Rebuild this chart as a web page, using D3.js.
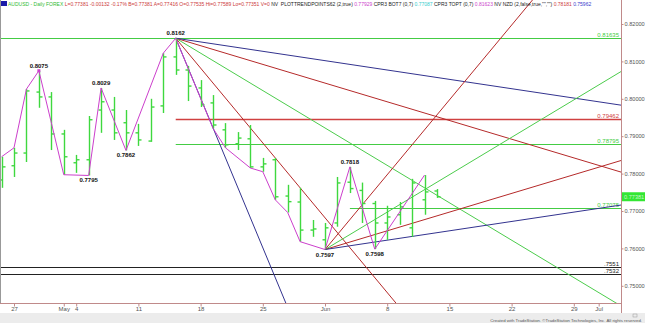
<!DOCTYPE html>
<html>
<head>
<meta charset="utf-8">
<script src="https://cdn.jsdelivr.net/npm/d3@7"></script>
<style>
  body { margin: 0; background: #fff; }
  svg { display: block; font-family: Arial, "Liberation Sans", sans-serif; }
</style>
</head>
<body>
<svg id="chart" width="645" height="323"></svg>
<script>
// daily AUDUSD bars, first bar is Fri 24 Apr 2015, weekends skipped
var firstDay = "2015-04-24";
var opens  = [0.7783, 0.7821, 0.7855, 0.8018, 0.8005, 0.7906, 0.7829, 0.7837, 0.7970, 0.7970, 0.7936, 0.7909, 0.7887, 0.7981, 0.8112, 0.8077, 0.8029, 0.7989, 0.7917, 0.7880, 0.7893, 0.7818, 0.7837, 0.7740, 0.7724, 0.7649, 0.7623, 0.7668, 0.7777, 0.7755, 0.7720, 0.7668, 0.7690, 0.7655, 0.7730, 0.77535];
var highs  = [0.7845, 0.7869, 0.8026, 0.8075, 0.8018, 0.7917, 0.7850, 0.7954, 0.8029, 0.8005, 0.7970, 0.7933, 0.8000, 0.8122, 0.8162, 0.8088, 0.8050, 0.8010, 0.7935, 0.7911, 0.7930, 0.7842, 0.7842, 0.7770, 0.7762, 0.7676, 0.7668, 0.7791, 0.7818, 0.7776, 0.7727, 0.7714, 0.7724, 0.7786, 0.7796, 0.77589];
var lows   = [0.7762, 0.7791, 0.7831, 0.7976, 0.7863, 0.7797, 0.7802, 0.7795, 0.7909, 0.7890, 0.7862, 0.7874, 0.7885, 0.7962, 0.8064, 0.7994, 0.7978, 0.7921, 0.7869, 0.7863, 0.7815, 0.7805, 0.7730, 0.7696, 0.7618, 0.7631, 0.7597, 0.7658, 0.7748, 0.7668, 0.7598, 0.7623, 0.7663, 0.7631, 0.7690, 0.77351];
var closes = [0.7818, 0.7855, 0.8021, 0.8005, 0.7906, 0.7845, 0.7837, 0.7944, 0.7992, 0.7909, 0.7909, 0.7890, 0.7978, 0.8112, 0.8077, 0.8034, 0.7984, 0.7930, 0.7877, 0.7895, 0.7818, 0.7826, 0.7738, 0.7725, 0.7649, 0.7652, 0.7655, 0.7775, 0.7760, 0.7720, 0.7668, 0.7684, 0.7711, 0.7775, 0.7751, 0.77381];

// zigzag (trend points) : bar number, price
var zzBar   = [0, 1, 2, 3, 5, 7, 8, 10, 13, 14, 17, 18, 20, 21, 22, 23, 24, 26, 28, 30, 34];
var zzPrice = [0.7845, 0.7869, 0.8026, 0.8075, 0.7797, 0.7795, 0.8029, 0.7862, 0.8122, 0.8162, 0.7921, 0.7869, 0.7815, 0.7805, 0.7730, 0.7696, 0.7618, 0.7597, 0.7818, 0.7598, 0.7796];

// swing labels
var pivotBar   = [3, 7, 8, 10, 14, 26, 28, 30];
var pivotPrice = [0.8075, 0.7795, 0.8029, 0.7862, 0.8162, 0.7597, 0.7818, 0.7598];
var pivotHigh  = [true, false, true, false, true, false, true, false];

// horizontal levels
var levelPrice = [0.81635, 0.79462, 0.78795, 0.77075, 0.7551, 0.7532];
var levelText  = ["0.81635", "0.79462", "0.78795", "0.77075", ".7551", ".7532"];
var levelFrom  = [-2, 14, 14, 28, -2, -2];
var levelColor = ["#44cc44", "#d04040", "#44cc44", "#44cc44", "#222", "#222"];

// gann fans : anchor bar, anchor price, direction, ratios of 1x1 unit
var fanUnit = 0.002;
var fanTop = {bar: 14, price: 0.8162, dir: -1, ratios: [4, 2, 1, 0.5, 0.25], colors: ["#33338f", "#b52a2a", "#4ccc4c", "#b52a2a", "#33338f"]};
var fanLow = {bar: 26, price: 0.7597, dir: 1, ratios: [2, 1, 0.5, 0.25], colors: ["#b52a2a", "#4ccc4c", "#b52a2a", "#33338f"]};

// axis
var priceTicks = [0.75, 0.76, 0.77, 0.78, 0.79, 0.80, 0.81, 0.82];
var dateTicks  = ["2015-04-27", "2015-05-01", "2015-05-04", "2015-05-11", "2015-05-18", "2015-05-25", "2015-06-01", "2015-06-08", "2015-06-15", "2015-06-22", "2015-06-29", "2015-07-01"];
var dateLabels = ["27", "May", "4", "11", "18", "25", "Jun", "8", "15", "22", "29", "Jul"];
var lastPrice = 0.77381;

var W = 645, H = 323, plotR = 621, plotB = 303;
var parse = d3.utcParse("%Y-%m-%d");
var days = d3.utcDay.range(parse(firstDay), parse("2015-07-15")).filter(function(d) {
  return d.getUTCDay() != 0 && d.getUTCDay() != 6;
});
function dayIndex(s) {
  var t = +parse(s);
  return days.findIndex(function(d) { return +d == t; });
}

var x = d3.scaleLinear().domain([1, 26]).range([14, 325]);
var y = d3.scaleLinear().domain([0.75, 0.82]).range([285.8, 24]);

var svg = d3.select("#chart");
svg.append("rect").attr("width", W).attr("height", H).attr("fill", "#fff");

svg.append("defs").append("clipPath").attr("id", "plot")
  .append("rect").attr("x", 0).attr("y", 0).attr("width", plotR).attr("height", plotB);

var g = svg.append("g").attr("clip-path", "url(#plot)");

// levels
levelPrice.forEach(function(p, i) {
  g.append("line")
    .attr("x1", x(levelFrom[i])).attr("x2", plotR)
    .attr("y1", Math.round(y(p)) + 0.5).attr("y2", Math.round(y(p)) + 0.5)
    .attr("stroke", levelColor[i]).attr("stroke-width", i == 1 ? 1.6 : 1);
  g.append("text")
    .attr("x", plotR - 2).attr("y", Math.round(y(p)) - 1.5)
    .attr("text-anchor", "end")
    .style("font-size", "6px")
    .attr("fill", levelColor[i])
    .text(levelText[i]);
});

// fans
[fanTop, fanLow].forEach(function(f) {
  f.ratios.forEach(function(r, i) {
    var endBar = f.bar + 80;
    g.append("line")
      .attr("x1", x(f.bar)).attr("y1", y(f.price))
      .attr("x2", x(endBar)).attr("y2", y(f.price + f.dir * r * fanUnit * 80))
      .attr("stroke", f.colors[i]).attr("stroke-width", 1);
  });
});

// bars
var bars = g.append("g").attr("stroke", "#3fd83f").attr("stroke-width", 1.4);
opens.forEach(function(o, i) {
  var cx = Math.round(x(i)) + 0.5;
  bars.append("line").attr("x1", cx).attr("x2", cx).attr("y1", y(highs[i])).attr("y2", y(lows[i]));
  bars.append("line").attr("x1", cx - 3).attr("x2", cx).attr("y1", y(o)).attr("y2", y(o));
  bars.append("line").attr("x1", cx).attr("x2", cx + 3).attr("y1", y(closes[i])).attr("y2", y(closes[i]));
});

// zigzag
var zz = zzBar.map(function(b, i) { return [x(b), y(zzPrice[i])]; });
g.append("path").attr("d", d3.line()(zz))
  .attr("fill", "none").attr("stroke", "#cc3fcc").attr("stroke-width", 1);
g.append("rect").attr("x", x(3) - 1.5).attr("y", y(0.8075) - 1.5).attr("width", 3).attr("height", 3).attr("fill", "#cc3fcc");

// pivot labels
pivotBar.forEach(function(b, i) {
  g.append("text")
    .attr("x", x(b)).attr("y", pivotHigh[i] ? y(pivotPrice[i]) - 3 : y(pivotPrice[i]) + 7)
    .attr("text-anchor", "middle")
    .style("font", "bold 6px Arial, sans-serif")
    .attr("fill", "#111")
    .text(pivotPrice[i].toFixed(4));
});

// frame
svg.append("line").attr("x1", 0.5).attr("x2", 0.5).attr("y1", 0).attr("y2", plotB).attr("stroke", "#999");
svg.append("line").attr("x1", plotR + 0.5).attr("x2", plotR + 0.5).attr("y1", 0).attr("y2", plotB + 10).attr("stroke", "#c08a8a");
svg.append("line").attr("x1", 0).attr("x2", plotR).attr("y1", plotB + 0.5).attr("y2", plotB + 0.5).attr("stroke", "#c08a8a");

// right axis
var yAxis = d3.axisRight(y).tickValues(priceTicks).tickSize(2).tickFormat(d3.format(".5f"));
svg.append("g").attr("transform", "translate(" + (plotR + 0.5) + ",0)").call(yAxis)
  .call(function(a) {
    a.select(".domain").remove();
    a.selectAll("line").attr("stroke", "#c08a8a");
    a.selectAll("text").attr("fill", "#555").style("font-size", "5.6px").attr("x", 3);
  });

// last price box
svg.append("rect").attr("x", plotR + 1).attr("y", y(lastPrice) - 4.5).attr("width", 23).attr("height", 9).attr("fill", "#33e633");
svg.append("text").attr("x", plotR + 3).attr("y", y(lastPrice) + 2)
  .style("font-size", "5.6px").attr("fill", "#c8f8c8").text(lastPrice.toFixed(5));

// date axis
var xAxis = d3.axisBottom(x).tickValues(dateTicks.map(dayIndex)).tickSize(3)
  .tickFormat(function(d, i) { return dateLabels[i]; });
svg.append("g").attr("transform", "translate(0," + (plotB + 0.5) + ")").call(xAxis)
  .call(function(a) {
    a.select(".domain").remove();
    a.selectAll("line").attr("stroke", "#c08a8a");
    a.selectAll("text").attr("fill", "#555").style("font-size", "6px").attr("y", 3.5);
  });

// footer strip
svg.append("rect").attr("x", 0).attr("y", 313).attr("width", W).attr("height", 10).attr("fill", "#ececec");
svg.append("text").attr("x", 642).attr("y", 321.5).attr("text-anchor", "end")
  .style("font-size", "4.3px").attr("fill", "#555")
  .text("Created with TradeStation. \u00a9TradeStation Technologies, Inc. All rights reserved.");
svg.append("rect").attr("x", 633).attr("y", 314).attr("width", 4).attr("height", 3).attr("fill", "none").attr("stroke", "#999").attr("stroke-width", 0.5);

// header
svg.append("rect").attr("x", 1).attr("y", 1).attr("width", 6).attr("height", 5).attr("fill", "#1a1aa8");
var head = [
  ["AUDUSD - Daily FOREX ", "#33bb33"],
  ["L=0.77381 -0.00132 -0.17% B=0.77381 A=0.77416 O=0.77535 Hi=0.77589 Lo=0.77351 V=0 ", "#cc3a3a"],
  ["NV  PLOTTRENDPOINTS62 (2,true) ", "#222"],
  ["0.77929 ", "#cc44cc"],
  ["CPR3 BOT7 (0,7) ", "#222"],
  ["0.77087 ", "#33cccc"],
  ["CPR3 TOPT (0,7) ", "#222"],
  ["0.81623 ", "#cc44cc"],
  ["NV NZD (2,false,true,\"\",\"\") ", "#222"],
  ["0.78181 ", "#cc3a3a"],
  ["0.75962", "#3a3acc"]
];
var ht = svg.append("text").attr("x", 8).attr("y", 5.5).style("font-size", "5px").attr("xml:space", "preserve");
head.forEach(function(h) {
  ht.append("tspan").attr("fill", h[1]).text(h[0]);
});
</script>
</body>
</html>
